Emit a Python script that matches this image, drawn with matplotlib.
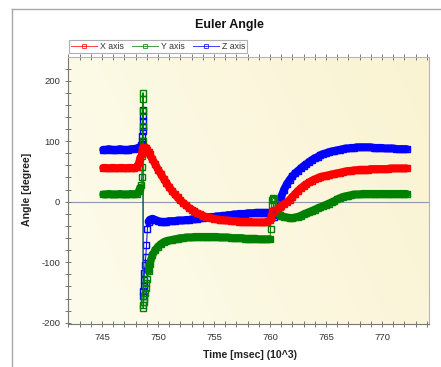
import numpy as np
import matplotlib
matplotlib.use("Agg")
import matplotlib.pyplot as plt
from matplotlib.lines import Line2D
from matplotlib.ticker import MultipleLocator

plt.rcParams['font.family'] = ['Liberation Sans', 'DejaVu Sans']
plt.rcParams['axes.unicode_minus'] = False

# ---- data: time in msec (x10^3), Euler angles in degrees ----
t_pre = [745.1, 745.35, 745.6, 745.85, 746.1, 746.35, 746.6, 746.85, 747.1,
         747.35, 747.6, 747.85, 748.1, 748.3]
t_flip = [748.4, 748.48, 748.54, 748.58, 748.6, 748.62, 748.63, 748.64, 748.65,
          748.66, 748.67, 748.69, 748.71, 748.74, 748.78, 748.84, 748.9, 748.97,
          749.05, 749.15]
t_settle = np.arange(749.25, 759.76, 0.25)
t_turn = [760.0, 760.05, 760.1, 760.15, 760.2, 760.3, 760.4, 760.55, 760.7, 760.85]
t_return = list(np.arange(761.0, 772.01, 0.25)) + [772.2]
time_ms = np.concatenate([t_pre, t_flip, t_settle, t_turn, t_return])

x_axis = [56, 56, 55, 56, 56, 55, 56, 56, 55, 56, 56, 55, 57, 64,
          72, 79, 83, 85, 86, 87, 87, 88, 88, 88, 89, 89, 89, 90, 90, 89, 88, 87, 85, 82,
          78, 70, 62, 53, 46, 38, 31, 24, 18, 12, 7, 2, -2, -6, -10, -13, -16, -19, -21, -23,
          -25, -26, -27, -28, -29, -30, -30, -31, -31, -32, -32, -32, -33, -33, -33, -33,
          -33, -34, -34, -34, -34, -34, -34,
          -30, -27, -23, -19, -17, -15, -14, -13, -11, -9,
          -7, -4, -1, 3, 8, 13, 18, 22, 26, 29, 32, 35, 37, 39, 41, 42, 43, 44, 45, 46,
          47, 48, 49, 50, 51, 51, 52, 52, 53, 53, 53, 53, 54, 54, 54, 54, 54, 54, 54, 55,
          55, 55, 55, 55, 55, 55]

y_axis = [12, 12, 13, 12, 12, 12, 13, 12, 12, 12, 13, 12, 13, 17,
          23, 28, 40, 58, 75, 100, 125, 150, 170, 180, -176, -170, -165, -160, -155, -150,
          -142, -135, -127, -115,
          -103, -88, -80, -74, -70, -67, -65, -64, -63, -62, -61, -60, -60, -59, -59, -59,
          -58, -58, -58, -58, -58, -58, -58, -58, -58, -59, -59, -59, -59, -60, -60, -60,
          -60, -60, -61, -61, -61, -61, -61, -62, -62, -62, -62,
          -62, -45, -25, -5, 3, 6, 5, -4, -17, -22,
          -24, -25, -26, -27, -27, -26, -25, -23, -21, -19, -17, -15, -13, -11, -9, -7,
          -5, -3, -1, 1, 4, 6, 8, 9, 10, 11, 12, 12, 12, 13, 13, 13, 13, 13, 13, 13,
          13, 13, 13, 13, 13, 13, 13, 13, 13, 13]

z_axis = [86, 86, 87, 86, 86, 86, 87, 86, 86, 86, 87, 87, 88, 89,
          91, 93, 96, 100, 108, 116, 124, 133, 142, 152, -156, -148, -140, -130, -118,
          -105, -92, -72, -45, -33,
          -30, -28, -30, -32, -33, -33, -33, -32, -32, -32, -31, -31, -31, -30, -30, -29,
          -29, -28, -27, -27, -26, -26, -25, -25, -24, -24, -23, -23, -22, -22, -21, -21,
          -20, -20, -20, -19, -19, -19, -18, -18, -18, -18, -18,
          -18, -18, -19, -19, -20, -22, -25, -18, -6, 2,
          8, 20, 29, 36, 42, 47, 51, 55, 59, 62, 66, 69, 72, 74, 77, 79, 80, 82, 83, 84,
          85, 86, 87, 88, 88, 89, 89, 90, 90, 90, 90, 90, 90, 89, 89, 89, 89, 88, 88, 88,
          88, 87, 87, 87, 87, 87]

series_names = ["X axis", "Y axis", "Z axis"]
series_colors = ["#ff0000", "#008000", "#0000ff"]

# densely sampled stretches, where the overlapping sample markers merge into a band
n_pre, n_flip, n_settle, n_turn = len(t_pre), len(t_flip), len(t_settle), len(t_turn)
dense_spans = [
    slice(0, n_pre + 1),
    slice(n_pre + n_flip - 1, n_pre + n_flip + n_settle + 1),
    slice(n_pre + n_flip + n_settle + n_turn - 1, len(time_ms)),
]

W, H = 441, 367
fig = plt.figure(figsize=(W / 100, H / 100), dpi=100)
fig.patch.set_facecolor("white")

# outer frame (top and left edges)
fig.add_artist(Line2D([12 / W, 1.0], [1 - 9 / H, 1 - 9 / H], transform=fig.transFigure,
                      color="#a8a8a8", lw=1.0))
fig.add_artist(Line2D([12 / W, 12 / W], [0.0, 1 - 9 / H], transform=fig.transFigure,
                      color="#a8a8a8", lw=1.0))

ax = fig.add_axes([68 / W, 1 - 324 / H, (429 - 68) / W, (324 - 57) / H])
xlim = (741.96, 774.2)
ylim = (-202, 239)
ax.set_xlim(*xlim)
ax.set_ylim(*ylim)

# cream background with a soft horizontal gradient
gx = np.linspace(0, 1, 200)
gy = np.linspace(0, 1, 100)
GX, GY = np.meshgrid(gx, gy)
c0 = np.array([253, 252, 236]) / 255.0
c1 = np.array([250, 243, 210]) / 255.0
w = np.clip(0.75 * GX + 0.25 * (1 - GY), 0, 1)[..., None]
grad = c0 * (1 - w) + c1 * w
ax.imshow(grad, extent=[xlim[0], xlim[1], ylim[0], ylim[1]], aspect="auto",
          origin="upper", zorder=0, interpolation="bilinear")

ax.axhline(0, color="#8b9aa8", lw=0.8, zorder=1)

values = [np.asarray(v, dtype=float) for v in (x_axis, y_axis, z_axis)]
for vals, col, z in zip(values[::-1], series_colors[::-1], [2, 3, 4]):
    for sl in dense_spans:
        ax.plot(time_ms[sl], vals[sl], "-", color=col, lw=5.6, solid_capstyle="round",
                solid_joinstyle="round", zorder=z)
    ax.plot(time_ms, vals, "-", color=col, lw=0.7, marker="s", ms=4.0,
            mfc="none", mec=col, mew=1.0, zorder=z)

ax.xaxis.set_major_locator(MultipleLocator(5))
ax.xaxis.set_minor_locator(MultipleLocator(1))
ax.yaxis.set_major_locator(MultipleLocator(100))
ax.yaxis.set_minor_locator(MultipleLocator(20))

ax.tick_params(axis="x", which="both", direction="inout", top=True, length=4,
               color="#777777", width=0.7)
ax.tick_params(axis="x", which="major", pad=4.5, labelsize=6.8, labelcolor="#333333")
ax.tick_params(axis="y", which="both", direction="inout", length=4,
               color="#777777", width=0.7)
ax.tick_params(axis="y", which="major", pad=3.5, labelsize=6.8, labelcolor="#333333")

for side in ["left", "bottom"]:
    ax.spines[side].set_color("#777777")
    ax.spines[side].set_linewidth(0.8)
for side in ["top", "right"]:
    ax.spines[side].set_color("#b5b5b5")
    ax.spines[side].set_linewidth(0.8)

fig.text(229 / W, 1 - 25 / H, "Euler Angle", ha="center", va="center",
         fontsize=9, fontweight="bold", color="#111111")
fig.text(27.5 / W, 1 - 189 / H, "Angle [degree]", ha="center", va="center",
         rotation=90, fontsize=7.6, fontweight="bold", color="#222222")
fig.text(249.7 / W, 1 - 355 / H, "Time [msec] (10^3)", ha="center", va="center",
         fontsize=7.6, fontweight="bold", color="#222222")

handles = [Line2D([], [], color=c, lw=0.7, marker="s", ms=3.5, mfc="none", mec=c, mew=0.7,
                  alpha=0.75)
           for c in series_colors]
leg = fig.legend(handles, series_names, loc="upper left",
                 bbox_to_anchor=(69 / W, 1 - 39.5 / H), ncol=3, fontsize=6.3,
                 frameon=True, fancybox=False, borderpad=0.25, handlelength=2.9,
                 handletextpad=0.35, columnspacing=1.0, borderaxespad=0)
leg.get_frame().set_edgecolor("#9a9a9a")
leg.get_frame().set_linewidth(0.8)
for txt in leg.get_texts():
    txt.set_color("#333333")

fig.savefig("out.png", dpi=100)
